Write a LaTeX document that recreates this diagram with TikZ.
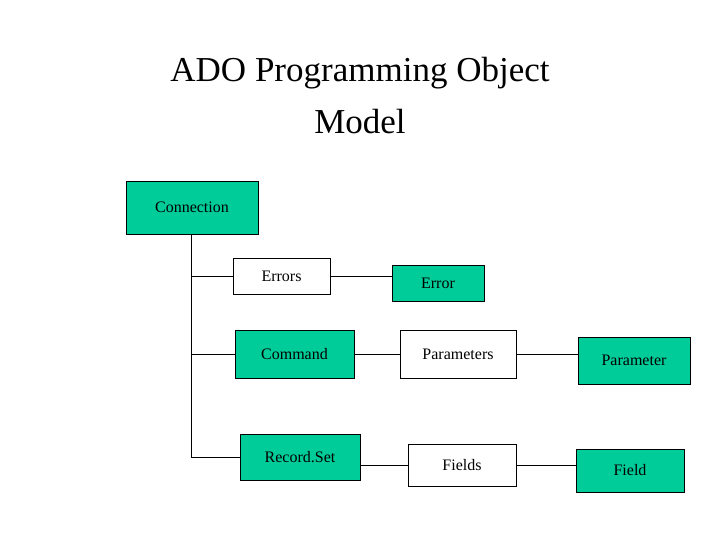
\documentclass[tikz,border=0pt]{standalone}
\usepackage{fontspec}
\setmainfont{Liberation Serif}
\usetikzlibrary{calc}
\definecolor{adogreen}{HTML}{00CC99}
\begin{document}
\begin{tikzpicture}[x=1pt,y=-1pt,thin,
  obj/.style={draw,fill=adogreen,font=\fontsize{16}{18}\selectfont,inner sep=0pt},
  coll/.style={draw,fill=white,font=\fontsize{16}{18}\selectfont,inner sep=0pt}]
\useasboundingbox (0,0) rectangle (720,540);
\node[font=\fontsize{35}{52}\selectfont,align=center] (title) at (360,96) {ADO Programming Object\\Model};

\node[obj,minimum width=132,minimum height=53] (conn) at (192,207.5) {Connection};
\node[coll,minimum width=97,minimum height=36] (errs) at (281.5,276) {Errors};
\node[obj,minimum width=92,minimum height=36] (err) at (438,283) {Error};
\node[obj,minimum width=119,minimum height=48] (cmd) at (294.5,354) {Command};
\node[coll,minimum width=116,minimum height=48] (pars) at (458,354) {Parameters};
\node[obj,minimum width=112,minimum height=47] (par) at (634,360.5) {Parameter};
\node[obj,minimum width=120,minimum height=46] (rs) at (300,457) {Record.Set};
\node[coll,minimum width=108,minimum height=42] (flds) at (462,465) {Fields};
\node[obj,minimum width=108,minimum height=43] (fld) at (630,470.5) {Field};

\coordinate (trunk) at (191,0);
\draw (conn.south -| trunk) -- (trunk |- rs.west) -- (rs.west);
\draw (trunk |- errs.west) -- (errs.west);
\draw (trunk |- cmd.west) -- (cmd.west);
\draw (errs.east) -- (errs.east -| err.west);
\draw (cmd.east) -- (pars.west);
\draw (pars.east) -- (pars.east -| par.west);
\draw (rs.east |- flds.west) -- (flds.west);
\draw (flds.east) -- (flds.east -| fld.west);
\end{tikzpicture}
\end{document}
